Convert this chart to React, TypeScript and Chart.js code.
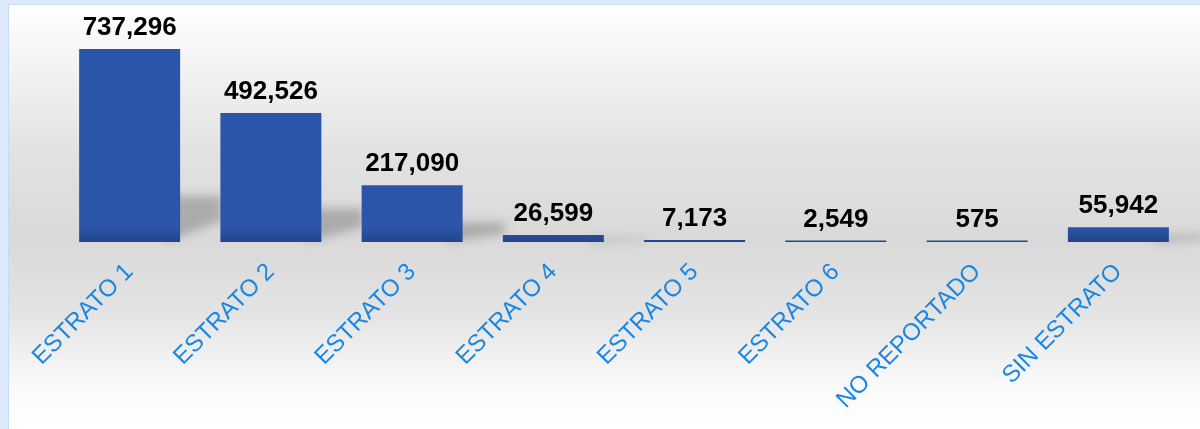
import React, { useEffect, useRef } from "react";
import { Chart, registerables } from "chart.js";

Chart.register(...registerables);

const categories = ["ESTRATO 1", "ESTRATO 2", "ESTRATO 3", "ESTRATO 4", "ESTRATO 5", "ESTRATO 6", "NO REPORTADO", "SIN ESTRATO"];
const values = [737296, 492526, 217090, 26599, 7173, 2549, 575, 55942];
const yMax = 848000;

const barShadow = {
  id: "barShadow",
  beforeDatasetsDraw(chart: any) {
    const ctx = chart.ctx;
    const meta = chart.getDatasetMeta(0);
    ctx.save();
    ctx.filter = "blur(5px)";
    ctx.fillStyle = "rgba(70,70,70,0.32)";
    meta.data.forEach((bar: any) => {
      const right = bar.x + bar.width / 2;
      const h = bar.base - bar.y;
      if (h < 3) return;
      const off = Math.min(8 + h * 0.2, h * 0.45);
      ctx.beginPath();
      ctx.moveTo(right - 15, bar.base);
      ctx.lineTo(right - 15, bar.base - off);
      ctx.lineTo(right + 42, bar.base - off);
      ctx.lineTo(right + 42, bar.base - off * 0.45);
      ctx.closePath();
      ctx.fill();
    });
    ctx.restore();
  },
};

const barGradient = {
  id: "barGradient",
  beforeDatasetDraw(chart: any) {
    const ctx = chart.ctx;
    const meta = chart.getDatasetMeta(0);
    meta.data.forEach((bar: any) => {
      const top = Math.min(bar.y, bar.base);
      const bottom = Math.max(bar.y, bar.base);
      const g = ctx.createLinearGradient(0, top, 0, bottom + 0.01);
      g.addColorStop(0, "#2b55a8");
      g.addColorStop(1, "#22468a");
      bar.options.backgroundColor = g;
    });
  },
};

const valueLabels = {
  id: "valueLabels",
  afterDatasetsDraw(chart: any) {
    const ctx = chart.ctx;
    const meta = chart.getDatasetMeta(0);
    ctx.save();
    ctx.font = "bold 26px 'Liberation Sans', Arial, sans-serif";
    ctx.fillStyle = "#000000";
    ctx.textAlign = "center";
    ctx.textBaseline = "alphabetic";
    meta.data.forEach((bar: any, i: number) => {
      ctx.fillText(values[i].toLocaleString("en-US"), bar.x, bar.y - 14);
    });
    ctx.restore();
  },
};

export default function App() {
  const ref = useRef<HTMLCanvasElement>(null);
  useEffect(() => {
    document.body.style.margin = "0";
    const chart = new Chart(ref.current!, {
      type: "bar",
      data: {
        labels: categories,
        datasets: [
          {
            data: values,
            backgroundColor: "#2850a0",
            borderWidth: 0,
            barPercentage: 0.715,
            categoryPercentage: 1,
            minBarLength: 1.5,
          },
        ],
      },
      options: {
        responsive: false,
        animation: false,
        layout: { padding: { left: 59, right: 11, top: 20, bottom: 0 } },
        plugins: { legend: { display: false }, tooltip: { enabled: false } },
        scales: {
          x: {
            grid: { display: false },
            border: { display: false },
            afterFit: (scale: any) => {
              scale.height = 187;
            },
            ticks: {
              minRotation: 45,
              maxRotation: 45,
              padding: 8,
              color: "#1a86e3",
              font: { size: 24, family: "'Liberation Sans', Arial, sans-serif" },
            },
          },
          y: {
            display: false,
            min: 0,
            max: yMax,
          },
        },
      },
      plugins: [barShadow, barGradient, valueLabels],
    });
    return () => chart.destroy();
  }, []);

  return (
    <div style={{ position: "relative", width: 1200, height: 429, background: "#dce9fa", overflow: "hidden" }}>
      <div
        style={{
          position: "absolute",
          left: 8,
          top: 4,
          right: 0,
          bottom: 0,
          borderLeft: "1px solid #c6dcf5",
          borderTop: "1px solid #c6dcf5",
          background:
            "linear-gradient(to bottom, #ffffff 0%, #e2e2e2 35%, #d9d9d9 55%, #e3e3e3 72%, #fafafa 90%, #ffffff 100%)",
        }}
      />
      <canvas ref={ref} width={1200} height={429} style={{ position: "absolute", left: 0, top: 0 }} />
    </div>
  );
}
